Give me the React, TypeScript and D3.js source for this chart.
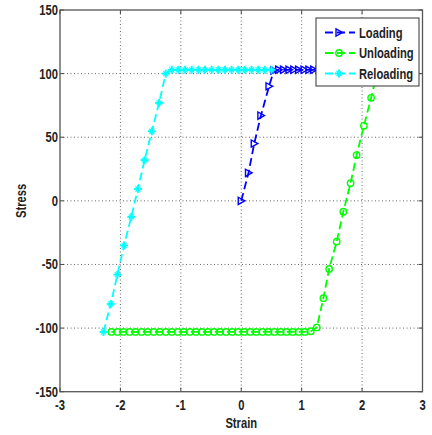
import React from "react";
import * as d3 from "d3";

const xTicks = [-3, -2, -1, 0, 1, 2, 3];
const yTicks = [-150, -100, -50, 0, 50, 100, 150];

const loadingStrain = [0, 0.12, 0.215, 0.325, 0.46, 0.54, 0.62, 0.7, 0.79, 0.87, 0.95, 1.04, 1.12, 1.2, 1.29, 1.37, 1.45, 1.54, 1.62, 1.7, 1.79, 1.87, 1.95, 2.04, 2.12, 2.2, 2.26];
const loadingStress = [0, 22, 45, 67, 90, 102.5, 103, 103, 103, 103, 103, 103, 103, 103, 103, 103, 103, 103, 103, 103, 103, 103, 103, 103, 103, 103, 103];

const unloadingStrain = [2.26, 2.15, 2.03, 1.91, 1.81, 1.69, 1.58, 1.455, 1.36, 1.25, 1.15, 1.05, 0.95, 0.85, 0.75, 0.65, 0.55, 0.45, 0.35, 0.25, 0.15, 0.05, -0.05, -0.15, -0.25, -0.35, -0.45, -0.55, -0.65, -0.75, -0.85, -0.95, -1.05, -1.15, -1.25, -1.35, -1.45, -1.55, -1.65, -1.75, -1.85, -1.95, -2.05, -2.15];
const unloadingStress = [103, 81, 59, 36, 14, -8.5, -32, -53.5, -76.5, -99.5, -102.5, -103, -103, -103, -103, -103, -103, -103, -103, -103, -103, -103, -103, -103, -103, -103, -103, -103, -103, -103, -103, -103, -103, -103, -103, -103, -103, -103, -103, -103, -103, -103, -103, -103];

const reloadingStrain = [-2.28, -2.16, -2.05, -1.94, -1.82, -1.71, -1.6, -1.48, -1.36, -1.25, -1.15, -1.04, -0.93, -0.82, -0.71, -0.6, -0.49, -0.38, -0.27, -0.16, -0.05, 0.06, 0.17, 0.28, 0.39, 0.5];
const reloadingStress = [-103, -81, -58, -35, -12.6, 9.4, 32, 54.7, 77, 100, 103, 103, 103, 103, 103, 103, 103, 103, 103, 103, 103, 103, 103, 103, 103, 103];

const legendLabels = ["Loading", "Unloading", "Reloading"];
const seriesColors = ["#0000ff", "#00ff00", "#00ffff"];

const W = 432, H = 435;
const M = { left: 60, right: 422.5, top: 10, bottom: 391.7 };
const FONT = "'Liberation Sans', Arial, sans-serif";
const SX = 0.8;

function NText({ x, y, anchor, size, children, rotate }: { x: number; y: number; anchor: string; size: number; children: React.ReactNode; rotate?: number }) {
  const t = rotate ? `translate(${x},${y}) rotate(${rotate}) scale(${SX},1)` : `translate(${x},${y}) scale(${SX},1)`;
  return (
    <text transform={t} textAnchor={anchor} fontFamily={FONT} fontWeight="bold" fontSize={size} fill="#222">{children}</text>
  );
}

function Marker({ kind, x, y, color }: { kind: number; x: number; y: number; color: string }) {
  if (kind === 0) {
    const p = `M${x - 3},${y - 3.6} L${x + 3.6},${y} L${x - 3},${y + 3.6} Z`;
    return <path d={p} fill="none" stroke={color} strokeWidth={1.4} />;
  }
  if (kind === 1) {
    return <circle cx={x} cy={y} r={3.2} fill="none" stroke={color} strokeWidth={1.4} />;
  }
  const s = 4;
  return (
    <g stroke={color} strokeWidth={2} strokeLinecap="butt">
      <line x1={x - s} y1={y} x2={x + s} y2={y} />
      <line x1={x} y1={y - s} x2={x} y2={y + s} />
      <line x1={x - 2.5} y1={y - 2.5} x2={x + 2.5} y2={y + 2.5} strokeWidth={1.2} />
      <line x1={x - 2.5} y1={y + 2.5} x2={x + 2.5} y2={y - 2.5} strokeWidth={1.2} />
    </g>
  );
}

export default function App() {
  const x = d3.scaleLinear().domain([-3, 3]).range([M.left, M.right]);
  const y = d3.scaleLinear().domain([-150, 150]).range([M.bottom, M.top]);
  const series = [
    { xs: loadingStrain, ys: loadingStress },
    { xs: unloadingStrain, ys: unloadingStress },
    { xs: reloadingStrain, ys: reloadingStress },
  ];
  const line = d3.line<[number, number]>().x((d) => x(d[0])).y((d) => y(d[1]));
  const tickLen = 4;
  const lg = { x: 316, y: 18, w: 103, h: 68 };
  return (
    <svg width={W} height={H} style={{ position: "absolute", left: 0, top: 0, background: "#fff" }}>
      <rect x={0} y={0} width={W} height={H} fill="#fff" />
      {xTicks.slice(1, -1).map((t) => (
        <line key={"gx" + t} x1={x(t)} x2={x(t)} y1={M.top} y2={M.bottom} stroke="#666" strokeWidth={1} strokeDasharray="1 2.5" />
      ))}
      {yTicks.slice(1, -1).map((t) => (
        <line key={"gy" + t} x1={M.left} x2={M.right} y1={y(t)} y2={y(t)} stroke="#666" strokeWidth={1} strokeDasharray="1 2.5" />
      ))}
      {xTicks.map((t) => (
        <g key={"tx" + t} stroke="#444" strokeWidth={1}>
          <line x1={x(t)} x2={x(t)} y1={M.bottom} y2={M.bottom - tickLen} />
          <line x1={x(t)} x2={x(t)} y1={M.top} y2={M.top + tickLen} />
        </g>
      ))}
      {yTicks.map((t) => (
        <g key={"ty" + t} stroke="#444" strokeWidth={1}>
          <line x1={M.left} x2={M.left + tickLen} y1={y(t)} y2={y(t)} />
          <line x1={M.right} x2={M.right - tickLen} y1={y(t)} y2={y(t)} />
        </g>
      ))}
      <rect x={M.left} y={M.top} width={M.right - M.left} height={M.bottom - M.top} fill="none" stroke="#555" strokeWidth={1.3} />
      {xTicks.map((t) => (
        <NText key={"lx" + t} x={x(t)} y={M.bottom + 18.5} anchor="middle" size={14}>{t}</NText>
      ))}
      {yTicks.map((t) => (
        <NText key={"ly" + t} x={M.left - 2} y={y(t) + 5} anchor="end" size={14}>{t}</NText>
      ))}
      <NText x={(M.left + M.right) / 2} y={428} anchor="middle" size={14}>Strain</NText>
      <NText x={26} y={(M.top + M.bottom) / 2} anchor="middle" size={14} rotate={-90}>Stress</NText>
      {series.map((s, i) => {
        const pts = s.xs.map((v, k) => [v, s.ys[k]] as [number, number]);
        return (
          <g key={"s" + i}>
            <path d={line(pts) || ""} fill="none" stroke={seriesColors[i]} strokeWidth={1.8} strokeDasharray="8 4" />
            {pts.map((p, k) => (
              <Marker key={k} kind={i} x={x(p[0])} y={y(p[1])} color={seriesColors[i]} />
            ))}
          </g>
        );
      })}
      <rect x={lg.x} y={lg.y} width={lg.w} height={lg.h} fill="#fff" stroke="#333" strokeWidth={1} />
      {legendLabels.map((lab, i) => {
        const yy = lg.y + 14.5 + i * 20.5;
        return (
          <g key={lab}>
            <line x1={lg.x + 9} x2={lg.x + 39} y1={yy} y2={yy} stroke={seriesColors[i]} strokeWidth={1.8} strokeDasharray="8 4" />
            <Marker kind={i} x={lg.x + 23} y={yy} color={seriesColors[i]} />
            <NText x={lg.x + 43} y={yy + 5} anchor="start" size={14}>{lab}</NText>
          </g>
        );
      })}
    </svg>
  );
}
